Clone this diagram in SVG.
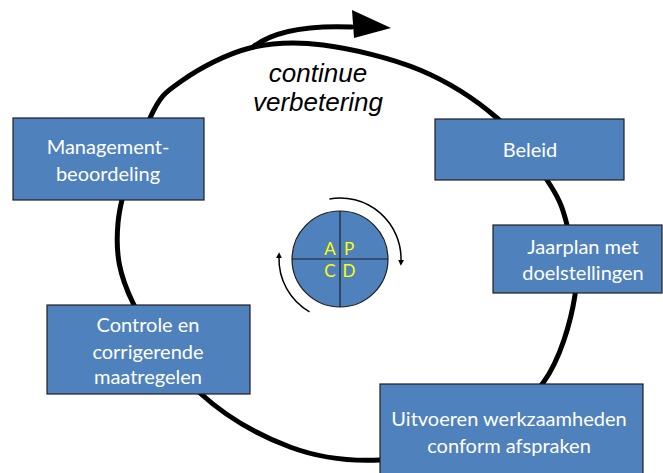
<svg xmlns="http://www.w3.org/2000/svg" width="663" height="473" viewBox="0 0 663 473">
<defs>
<style>
.box{fill:#4F81BD;stroke:#1E1E1E;stroke-width:1.2}
.bt{font-family:Lato,"Open Sans","Liberation Sans",sans-serif;font-size:20px;fill:#FFFFFF;text-anchor:middle}
.pdca{font-family:Lato,"Open Sans","Liberation Sans",sans-serif;font-size:17px;fill:#FFFF00;text-anchor:middle}
.big{fill:none;stroke:#000;stroke-width:5;stroke-linecap:round;stroke-linejoin:round}
.small{fill:none;stroke:#000;stroke-width:1.5}
.lbl{font-family:"Liberation Sans",Arial,sans-serif;font-style:italic;font-size:26px;fill:#000;text-anchor:middle}
</style>
<marker id="ah" viewBox="0 0 10 10" refX="2" refY="5" markerWidth="6" markerHeight="6" markerUnits="userSpaceOnUse" orient="auto">
<path d="M0,0 L10,5 L0,10 Z" fill="#000"/>
</marker>
</defs>
<g id="connectors">
<path class="big" d="M575,295 C571,321.3 560.3,359.2 543,383 C525.7,406.8 498.2,425.2 471,438 C443.8,450.8 410.2,458.5 380,460 C349.8,461.5 320,458.2 290,447 C260,435.8 226.2,417 200,393 C173.8,369 146.7,331.3 133,303 C119.3,274.7 115.2,253.8 118,223 C120.8,192.2 139.2,141.8 150,118 C160.8,94.2 166.3,91.7 183,80 C199.7,68.3 226.7,53.8 250,48 C273.3,42.2 294.7,41.3 323,45 C351.3,48.7 391,57.8 420,70 C449,82.2 475.8,99.7 497,118 C518.2,136.3 535.3,162.2 547,180 C558.7,197.8 562.3,205.8 567,225 C571.7,244.2 579,268.7 575,295 Z"/>
<path class="big" d="M253,47 C272,32 305,25 352,27"/>
<polygon points="352,10 391,28 354,38" fill="#000"/>
<path class="small" d="M329.4,198.9 A61,61 0 0 1 401,261" marker-end="url(#ah)"/>
<path class="small" d="M309.5,311.8 A61,61 0 0 1 279,257" marker-end="url(#ah)"/>
</g>
<g id="label">
<text class="lbl" x="318" y="82">continue</text>
<text class="lbl" x="318" y="111">verbetering</text>
</g>
<g id="pdca">
<circle cx="340" cy="259" r="48" fill="#4F81BD" stroke="#1E1E1E" stroke-width="1.2"/>
<line x1="340" y1="211" x2="340" y2="307" stroke="#1E1E1E" stroke-width="1.2"/>
<line x1="292" y1="259" x2="388" y2="259" stroke="#1E1E1E" stroke-width="1.2"/>
<text class="pdca" x="330" y="255">A</text>
<text class="pdca" x="349" y="255">P</text>
<text class="pdca" x="330" y="277">C</text>
<text class="pdca" x="349" y="277">D</text>
</g>
<g id="management">
<rect class="box" x="13" y="118" width="191" height="82"/>
<text class="bt" x="108" y="154">Management-</text>
<text class="bt" x="108" y="181">beoordeling</text>
</g>
<g id="beleid">
<rect class="box" x="435" y="119" width="189" height="61"/>
<text class="bt" x="530" y="157">Beleid</text>
</g>
<g id="jaarplan">
<rect class="box" x="493" y="225" width="169" height="68"/>
<text class="bt" x="583" y="254">Jaarplan met</text>
<text class="bt" x="583" y="280">doelstellingen</text>
</g>
<g id="uitvoeren">
<rect class="box" x="380" y="384" width="263" height="95"/>
<text class="bt" x="509" y="426">Uitvoeren werkzaamheden</text>
<text class="bt" x="509" y="453">conform afspraken</text>
</g>
<g id="controle">
<rect class="box" x="47" y="305" width="203" height="89"/>
<text class="bt" x="148" y="332">Controle en</text>
<text class="bt" x="148" y="359">corrigerende</text>
<text class="bt" x="148" y="384">maatregelen</text>
</g>
</svg>
